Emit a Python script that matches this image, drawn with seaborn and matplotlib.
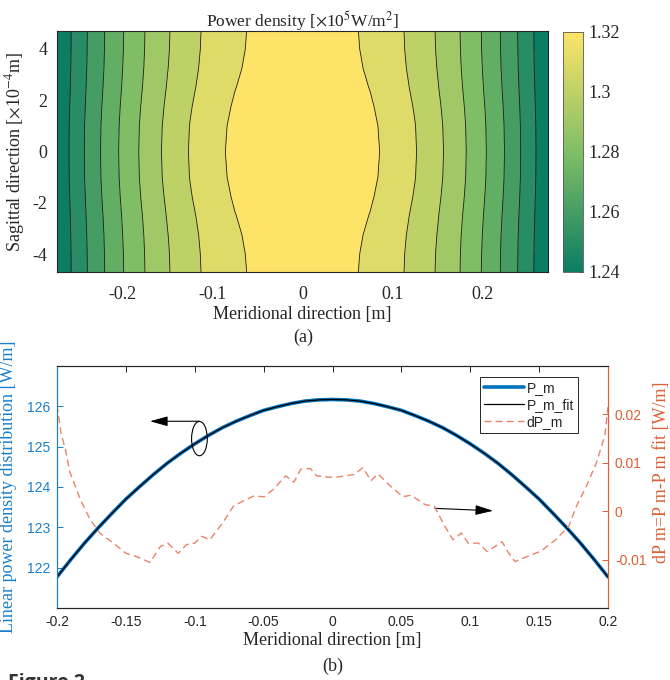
import numpy as np
import matplotlib
matplotlib.use("Agg")
import matplotlib.pyplot as plt
import seaborn as sns
from matplotlib.colors import LinearSegmentedColormap, Normalize
from matplotlib.cm import ScalarMappable
from matplotlib.patches import Ellipse

# ---- (a) power density map [1e5 W/m^2] ----
meridional_x = [-0.275, -0.25, -0.225, -0.2, -0.175, -0.15, -0.125, -0.1, -0.075, -0.05, -0.025, 0.0,
                0.025, 0.05, 0.075, 0.1, 0.125, 0.15, 0.175, 0.2, 0.225, 0.25, 0.275]
# profile along the middle row (y = 0)
density_mid_row = [1.2306, 1.2459, 1.2598, 1.2722, 1.2831, 1.2926, 1.3006, 1.3071, 1.3122, 1.3159, 1.3181, 1.3188,
                   1.3181, 1.3159, 1.3122, 1.3071, 1.3006, 1.2926, 1.2831, 1.2722, 1.2598, 1.2459, 1.2306]
# profile along the outer rows (y = +-4.7e-4 m)
density_edge_row = [1.2295, 1.2443, 1.2576, 1.2695, 1.2801, 1.2892, 1.2969, 1.3033, 1.3082, 1.3117, 1.3138, 1.3145,
                    1.3138, 1.3117, 1.3082, 1.3033, 1.2969, 1.2892, 1.2801, 1.2695, 1.2576, 1.2443, 1.2295]
sagittal_y = [-4.7, -4.0, -3.25, -2.5, -1.75, -1.0, 0.0, 1.0, 1.75, 2.5, 3.25, 4.0, 4.7]
sagittal_weight = [1.0, 0.95, 0.82, 0.6, 0.32, 0.1, 0.0, 0.1, 0.32, 0.6, 0.82, 0.95, 1.0]
contour_levels = [1.24, 1.25, 1.26, 1.27, 1.28, 1.29, 1.30, 1.31]
cbar_ticks = [1.24, 1.26, 1.28, 1.30, 1.32]
cbar_labels = ["1.24", "1.26", "1.28", "1.3", "1.32"]

# ---- (b) linear power density [W/m] ----
pm_x = [-0.20, -0.19, -0.18, -0.17, -0.16, -0.15, -0.14, -0.13, -0.12, -0.11, -0.10,
        -0.09, -0.08, -0.07, -0.06, -0.05, -0.04, -0.03, -0.02, -0.01, 0.0,
        0.01, 0.02, 0.03, 0.04, 0.05, 0.06, 0.07, 0.08, 0.09, 0.10,
        0.11, 0.12, 0.13, 0.14, 0.15, 0.16, 0.17, 0.18, 0.19, 0.20]
pm_values = [121.77, 122.20, 122.61, 122.99, 123.35, 123.70, 124.01, 124.31, 124.59, 124.84, 125.07,
             125.28, 125.47, 125.63, 125.77, 125.90, 125.99, 126.07, 126.13, 126.16, 126.17,
             126.16, 126.13, 126.07, 125.99, 125.90, 125.77, 125.63, 125.47, 125.28, 125.07,
             124.84, 124.59, 124.31, 124.01, 123.70, 123.35, 122.99, 122.61, 122.20, 121.77]
pm_fit_values = list(pm_values)
dp_x = [-0.200, -0.197, -0.194, -0.1906, -0.183, -0.176, -0.169, -0.159, -0.150, -0.142, -0.1325, -0.125,
        -0.1195, -0.112, -0.106, -0.100, -0.095, -0.089, -0.079, -0.072, -0.065, -0.0575, -0.0495, -0.043,
        -0.034, -0.028, -0.023, -0.016, -0.0115, -0.001, 0.002, 0.016, 0.022, 0.028, 0.033, 0.042, 0.051,
        0.057, 0.067, 0.074, 0.0815, 0.0875, 0.0936, 0.0985, 0.106, 0.112, 0.118, 0.123, 0.128, 0.1325,
        0.1446, 0.151, 0.162, 0.1715, 0.177, 0.1844, 0.1917, 0.1977, 0.200]
dp_values = [0.0219, 0.0160, 0.0129, 0.0080, 0.0024, -0.0017, -0.0045, -0.0066, -0.0087, -0.0094, -0.0106, -0.0073,
             -0.0066, -0.0087, -0.0069, -0.0066, -0.0052, -0.0059, -0.0021, 0.0010, 0.0021, 0.0031, 0.0030, 0.0045,
             0.0073, 0.0060, 0.0087, 0.0088, 0.0073, 0.0070, 0.0070, 0.0076, 0.0090, 0.0063, 0.0077, 0.0052, 0.0030,
             0.0033, 0.0014, 0.0010, -0.0031, -0.0059, -0.0045, -0.0066, -0.0066, -0.0083, -0.0073, -0.0063, -0.0087,
             -0.0104, -0.0090, -0.0083, -0.0059, -0.0031, 0.0010, 0.0052, 0.0101, 0.0156, 0.0215]

sns.set_theme(style="white")
plt.rcParams["font.family"] = ["Liberation Serif", "DejaVu Serif"]
plt.rcParams["mathtext.fontset"] = "stix"
plt.rcParams["axes.edgecolor"] = "#262626"
plt.rcParams["axes.linewidth"] = 0.8

SERIF = "Liberation Serif"
SANS = "Liberation Sans"
BLUE_LINE = "#0072BD"
BLUE_TXT = "#1a7fcc"
ORANGE = "#DD5F35"
ORANGE_LINE = "#E8846A"
DARK = "#262626"

fig = plt.figure(figsize=(6.7, 6.8), dpi=100)

# ---------- panel (a) ----------
ax = fig.add_axes([57 / 670, 1 - 272 / 680, 491 / 670, 241 / 680])
cmap = LinearSegmentedColormap.from_list("summerish", ["#0b7d63", "#80be66", "#fde468"])
X, Y = np.meshgrid(meridional_x, sagittal_y)
mid = np.array(density_mid_row)
edge = np.array(density_edge_row)
Z = mid[None, :] + (edge - mid)[None, :] * np.array(sagittal_weight)[:, None]
fill_levels = [1.22] + contour_levels + [1.33]
ax.contourf(X, Y, Z, levels=fill_levels, cmap=cmap, norm=Normalize(1.235, 1.315))
ax.contour(X, Y, Z, levels=contour_levels, colors="#1a1a1a", linewidths=0.6)
ax.set_xlim(-0.273, 0.273)
ax.set_ylim(-4.7, 4.7)
ax.set_xticks([-0.2, -0.1, 0, 0.1, 0.2])
ax.set_xticklabels(["-0.2", "-0.1", "0", "0.1", "0.2"])
ax.set_yticks([-4, -2, 0, 2, 4])
ax.set_yticklabels(["-4", "-2", "0", "2", "4"])
ax.tick_params(direction="in", top=True, right=True, length=4, width=0.7,
               labelsize=13, colors=DARK, pad=7)
ax.tick_params(axis="x", pad=10)
ax.set_title("Power density [$\\times$10$^5$W/m$^2$]", fontsize=12.5, family=SERIF, pad=3, color=DARK)
ax.set_xlabel("Meridional direction [m]", fontsize=13, family=SERIF, color=DARK, labelpad=2)
ax.set_ylabel("Sagittal direction [$\\times$10$^{-4}$m]", fontsize=13, family=SERIF, color=DARK)
ax.yaxis.set_label_coords(-0.062, 0.5)

cax = fig.add_axes([563 / 670, 1 - 272 / 680, 20 / 670, 240 / 680])
cb = fig.colorbar(ScalarMappable(norm=Normalize(1.24, 1.32), cmap=cmap), cax=cax, ticks=cbar_ticks)
cb.ax.set_yticklabels(cbar_labels)
cb.ax.tick_params(direction="in", length=3, width=0.6, labelsize=13, colors=DARK, pad=4)
cb.outline.set_edgecolor("#555555")
cb.outline.set_linewidth(0.6)

fig.text(303 / 670, 1 - 337 / 680, "(a)", ha="center", va="center", fontsize=13, family=SERIF, color=DARK)

# ---------- panel (b) ----------
bx = fig.add_axes([57 / 670, 1 - 608 / 680, 551 / 670, 242 / 680])
bx2 = bx.twinx()
sns.lineplot(x=pm_x, y=pm_values, ax=bx, color=BLUE_LINE, linewidth=2.6, sort=False)
sns.lineplot(x=pm_x, y=pm_fit_values, ax=bx, color="black", linewidth=0.9, sort=False)
sns.lineplot(x=dp_x, y=dp_values, ax=bx2, color=ORANGE_LINE, linewidth=1.0, sort=False)
pm_line, fit_line = bx.get_lines()[0], bx.get_lines()[1]
dp_line = bx2.get_lines()[0]
dp_line.set_dashes((5, 3))

bx.set_xlim(-0.2, 0.2)
bx.set_ylim(121, 127)
bx2.set_ylim(-0.02, 0.03)
bx.set_xticks([-0.2, -0.15, -0.1, -0.05, 0, 0.05, 0.1, 0.15, 0.2])
bx.set_xticklabels(["-0.2", "-0.15", "-0.1", "-0.05", "0", "0.05", "0.1", "0.15", "0.2"])
bx.set_yticks([122, 123, 124, 125, 126])
bx2.set_yticks([-0.01, 0, 0.01, 0.02])
bx2.set_yticklabels(["-0.01", "0", "0.01", "0.02"])

for a in (bx, bx2):
    a.spines["left"].set_color(BLUE_TXT)
    a.spines["right"].set_color(ORANGE)
    a.spines["top"].set_color(DARK)
    a.spines["bottom"].set_color(DARK)
bx.tick_params(axis="x", direction="in", top=True, length=4, width=0.7, colors=DARK, labelsize=10, pad=5)
bx.tick_params(axis="y", direction="in", length=4, width=0.7, colors=BLUE_TXT, labelsize=10, pad=5)
bx2.tick_params(axis="y", direction="in", length=4, width=0.7, colors=ORANGE, labelsize=10, pad=5)
for lab in bx.get_xticklabels() + bx.get_yticklabels() + bx2.get_yticklabels():
    lab.set_family(SANS)

bx.set_xlabel("Meridional direction [m]", fontsize=13, family=SERIF, color=DARK, labelpad=2)
bx.set_ylabel("Linear power density distribution [W/m]", fontsize=13, family=SERIF, color=BLUE_TXT)
bx.yaxis.set_label_coords(-0.073, 0.5)
bx2.set_ylabel("dP m=P m-P m fit [W/m]", fontsize=13, family=SERIF, color=ORANGE, rotation=90)
bx2.yaxis.set_label_coords(1.082, 0.56)

# annotations: ellipse with arrow to the left axis, arrow to the right axis
bx.add_patch(Ellipse((-0.0966, 125.2), 0.0114, 0.85, fill=False, edgecolor="black", linewidth=0.8, zorder=5))
bx.annotate("", xy=(-0.1325, 125.63), xytext=(-0.0966, 125.63),
            arrowprops=dict(arrowstyle="-|>,head_length=0.9,head_width=0.25", color="black", lw=0.8,
                            shrinkA=0, shrinkB=0))
bx.annotate("", xy=(0.1166, 123.41), xytext=(0.0743, 123.47),
            arrowprops=dict(arrowstyle="-|>,head_length=0.9,head_width=0.25", color="black", lw=0.8,
                            shrinkA=0, shrinkB=0))

leg = bx2.legend([pm_line, fit_line, dp_line], ["P_m", "P_m_fit", "dP_m"],
                 loc="upper right", bbox_to_anchor=(0.9456, 0.9545), borderaxespad=0,
                 frameon=True, fancybox=False, edgecolor="#262626", framealpha=1,
                 prop={"family": SANS, "size": 10}, handlelength=2.9, handletextpad=0.15,
                 labelspacing=0.2, borderpad=0.3)
leg.get_frame().set_linewidth(0.7)

fig.text(333 / 670, 1 - 666 / 680, "(b)", ha="center", va="center", fontsize=13, family=SERIF, color=DARK)
fig.text(8 / 670, 1 - 673 / 680, "Figure 2", ha="left", va="top", fontsize=14, fontweight="bold",
         family="Open Sans", color="#333333")

fig.savefig("out.png", dpi=100)
